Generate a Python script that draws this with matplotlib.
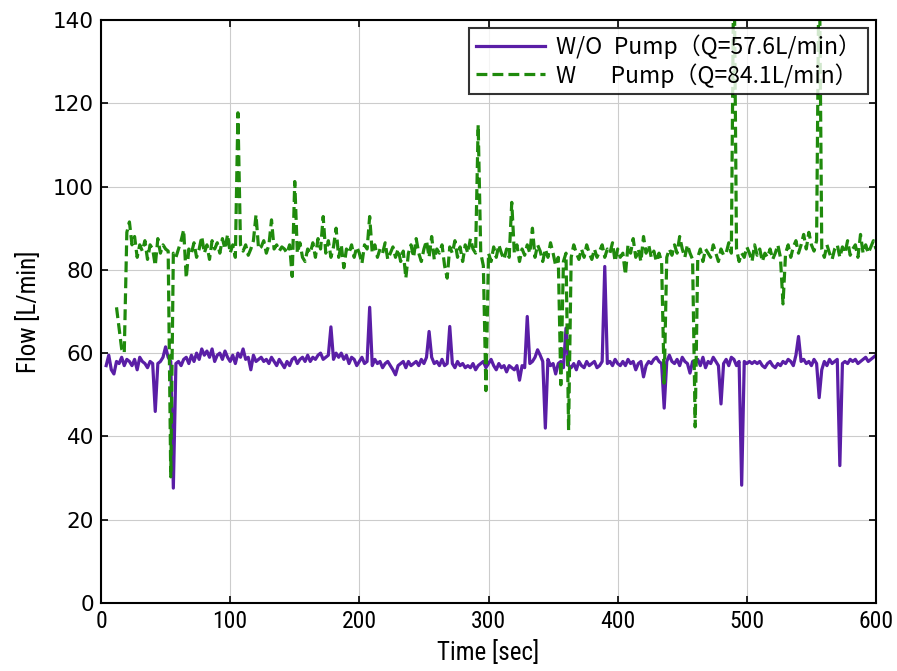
import numpy as np
import matplotlib
matplotlib.use("Agg")
import matplotlib.pyplot as plt
from matplotlib import font_manager

plt.rcParams['font.family'] = ['Noto Sans CJK JP', 'DejaVu Sans']

# W/O pump, sampled every 2 s from t=4
t_wo = np.arange(4, 601, 2)
q_wo = [
    57, 59.5, 56, 55, 58, 57.5, 59, 57, 58.5, 58,
    57, 58.5, 56, 59, 58, 57.5, 56.5, 58, 57.5, 46,
    57.5, 58, 59, 61.5, 59, 58, 27.6, 57.5, 58, 57,
    58.5, 59, 57.5, 59.5, 58, 60, 58.5, 61, 59.5, 60.5,
    59, 61, 58, 59.5, 60, 58.5, 60.5, 59, 58, 59.5,
    57.5, 60, 59, 61, 58.5, 59, 56, 59.5, 58, 58.5,
    59, 58, 58.5, 57.5, 59, 58, 57, 58.5, 57.5, 56.5,
    58, 57, 58.5, 59, 57.5, 58.5, 59, 58, 59.5, 58,
    59, 58.5, 59.5, 60, 58.5, 59, 59.5, 66.3, 58.5, 60,
    59, 60, 58.5, 59.5, 57.5, 59, 58.5, 57, 58, 59,
    57.5, 58, 71, 57, 58.5, 57.5, 58, 56.5, 57.5, 58,
    57, 56, 54.8, 57, 57.5, 58, 56.5, 58, 57, 57.5,
    58, 57, 58.5, 57.5, 59, 65.2, 59, 57.5, 58, 57,
    58.5, 57, 57.5, 66.4, 57.5, 56.5, 58, 57, 57.5, 56.5,
    57, 56.5, 57.5, 56, 57, 57.5, 58, 56.5, 57.5, 58.5,
    57, 56, 57.5, 56.5, 57, 55.5, 57, 56.5, 56, 57,
    53.5, 57, 56.5, 68.8, 57.5, 58, 59, 60.8, 59.5, 58,
    42, 58.5, 57, 57.5, 55, 57.5, 58, 56.5, 66, 57,
    56.5, 57.5, 56, 58, 57, 56.5, 58, 57, 57.5, 58,
    56.5, 57, 58, 80.8, 57.5, 58, 57, 58.5, 57.5, 57,
    58, 57, 58.5, 57.5, 58, 56, 57.5, 58, 54.3, 57,
    58, 57.5, 58.5, 59, 58, 57.5, 46.8, 58, 59.5, 58,
    57.5, 58.5, 57, 59, 58, 57.5, 55.2, 58, 57.5, 58.5,
    57, 59, 56.5, 58, 57.5, 59, 58, 57, 47.8, 57.5,
    58.5, 57, 59, 58.5, 57, 58, 28.3, 58, 57.5, 58,
    57.5, 58, 57.5, 58, 57, 56.5, 57.5, 58, 57, 56.5,
    57.5, 57, 58, 57.5, 58.5, 58, 57, 59.5, 64, 58,
    58.5, 57.5, 58, 57, 58.5, 57.5, 49.3, 56, 58, 57,
    58.5, 57.5, 58, 58.5, 33, 57.5, 58, 57.5, 58.5, 58,
    58.5, 57.5, 58, 58.5, 59, 58, 58.5, 59, 59.5,
]

# W pump, sampled every 2 s from t=12
t_w = np.arange(12, 601, 2)
q_w = [
    71, 66, 61, 60, 89, 91.5, 86, 88, 83, 86,
    84.5, 87, 82.5, 86, 85, 81, 87.5, 84, 86, 85,
    84.5, 30.3, 84, 83, 85, 87, 89.6, 78, 85, 84,
    86.5, 83, 85, 88, 84, 86, 82.5, 87, 85, 86.5,
    84, 87.5, 85, 88.5, 84, 86, 83, 117.7, 86, 84.5,
    86, 83.5, 85, 87, 93.2, 85, 85.5, 87, 84, 86,
    92, 85, 86, 84.5, 85.5, 85, 84, 86, 78.4, 101.2,
    84, 86.5, 83, 82, 85, 84, 86.5, 83, 87.5, 85,
    92.8, 84, 87, 83, 85.5, 90, 83, 86, 80.5, 85,
    84, 86, 83, 85.5, 84, 81.5, 86, 85, 92.8, 84,
    86, 83, 85, 84, 86.5, 82.5, 84, 85.5, 83, 85,
    82, 84.5, 78, 84, 86, 83, 87.5, 84, 82, 85,
    87, 83, 88, 82.5, 85, 84, 86, 81, 78, 85.5,
    84, 87, 83, 85.5, 82, 86, 84, 87.5, 85, 84,
    114.8, 84, 81, 51, 84, 82, 85.5, 83, 86, 84,
    82.5, 85, 83, 96.2, 84, 86, 82, 85, 83.5, 86,
    84, 90, 83, 86, 84.5, 82, 85, 83, 86.5, 84,
    81, 83, 52.4, 82, 84, 41.5, 83, 86, 84, 82.5,
    85, 83, 86, 84, 82.5, 85, 83, 84.5, 86, 83,
    85, 84, 86.5, 82, 85, 83, 84, 78.8, 86, 84,
    87.5, 83, 85, 82, 88, 84, 86, 83, 84.5, 82,
    84, 82, 52.8, 83, 85, 83.5, 86, 84, 88, 85,
    83, 86, 84, 82.5, 42.3, 83, 85, 82, 85, 84,
    83, 86, 84, 82, 85, 83.5, 84, 86.5, 84, 160,
    85, 82, 84, 83, 85.5, 84, 82, 86, 83.5, 85,
    82, 84, 83, 85, 82.5, 84, 86, 83, 71.8, 84,
    86, 83, 85.5, 87, 84, 86, 88.5, 85, 89, 86,
    84.5, 87, 160, 85, 83, 86, 84, 82.5, 85, 86,
    83, 85.5, 84, 87, 83.5, 85, 86, 83, 88.5, 84,
    86, 84, 85.5, 87, 85,
]

labels = ["W/O\u2002Pump（Q=57.6L/min）", "W\u3000\u2002Pump（Q=84.1L/min）"]

# narrow font for the axis labels if one is installed
names = {f.name for f in font_manager.fontManager.ttflist}
narrow = [n for n in ["Roboto Condensed", "Liberation Sans Narrow"] if n in names]
narrow = narrow + ["DejaVu Sans"]

fig = plt.figure(figsize=(8.97, 6.71), dpi=100)
ax = fig.add_axes([0.1126, 0.1013, 0.8640, 0.8690])

ax.plot(t_wo, q_wo, color="#5a1ea6", lw=2.3, label=labels[0])
ax.plot(t_w, q_w, color="#1f8a0c", lw=2.3, ls=(0, (3.4, 1.6)), label=labels[1])

ax.set_xlim(0, 600)
ax.set_ylim(0, 140)
ax.set_xticks(range(0, 601, 100))
ax.set_yticks(range(0, 141, 20))
ax.grid(True, color="#cccccc", lw=0.8)
ax.tick_params(direction="in", top=True, right=True, length=5, width=1.2, pad=5)
for s in ax.spines.values():
    s.set_linewidth(1.5)

for lab in ax.get_xticklabels():
    lab.set_family(narrow[0])
    lab.set_fontsize(17)
for lab in ax.get_yticklabels():
    lab.set_family("DejaVu Sans")
    lab.set_fontsize(15.5)

ax.set_xlabel("Time [sec]", family=narrow[0], fontsize=18, labelpad=5)
ax.set_ylabel("Flow [L/min]", family=narrow[0], fontsize=18, labelpad=9)

leg = ax.legend(loc="upper right", fontsize=16.5, frameon=True, fancybox=False,
                borderaxespad=0.35, handlelength=3.0, handletextpad=0.5,
                labelspacing=0.15, borderpad=0.3)
leg.get_frame().set_edgecolor("black")
leg.get_frame().set_linewidth(1.5)

fig.savefig("out.png", dpi=100)
